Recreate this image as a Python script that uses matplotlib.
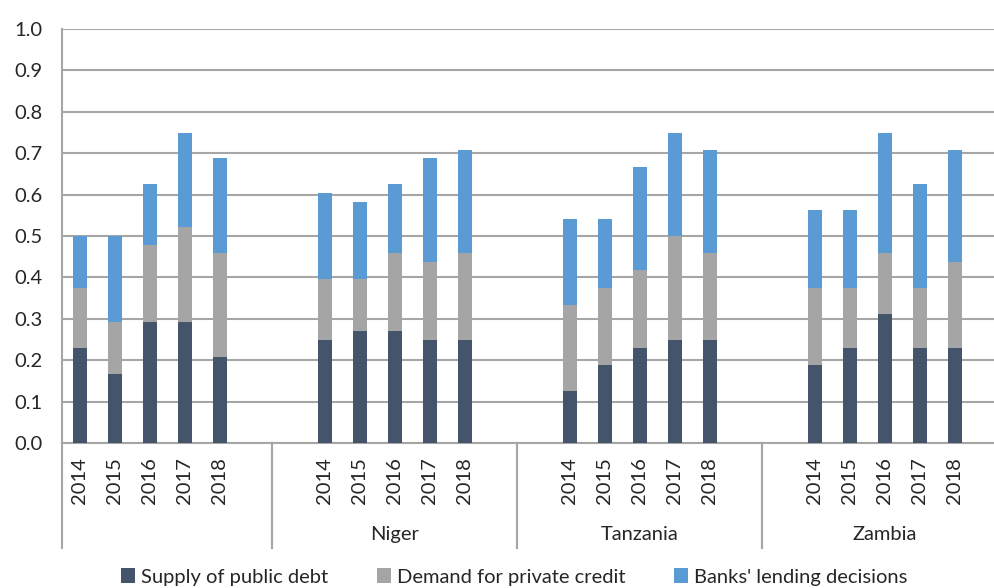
import matplotlib
matplotlib.use('Agg')
import matplotlib.pyplot as plt
import matplotlib.transforms as mtransforms
import numpy as np

plt.rcParams['font.family'] = ['Lato', 'DejaVu Sans']

# Datos
years = ['2014', '2015', '2016', '2017', '2018']
countries = ['', 'Niger', 'Tanzania', 'Zambia']
series_names = ['Supply of public debt', 'Demand for private credit', "Banks' lending decisions"]

public_debt = [0.229, 0.167, 0.292, 0.292, 0.208,
               0.25, 0.271, 0.271, 0.25, 0.25,
               0.125, 0.1875, 0.229, 0.25, 0.25,
               0.1875, 0.229, 0.3125, 0.229, 0.229]
private_credit = [0.146, 0.125, 0.187, 0.229, 0.25,
                  0.146, 0.125, 0.187, 0.188, 0.208,
                  0.208, 0.1875, 0.188, 0.25, 0.208,
                  0.1875, 0.146, 0.1455, 0.146, 0.2085]
lending = [0.125, 0.208, 0.146, 0.229, 0.2295,
           0.208, 0.187, 0.167, 0.25, 0.25,
           0.209, 0.167, 0.25, 0.25, 0.25,
           0.1875, 0.1875, 0.292, 0.25, 0.2705]

colors = ['#44546a', '#a5a5a5', '#5b9bd5']
grid_color = '#a6a6a6'
fs = 14.5

# Posiciones: el primer grupo no lleva hueco inicial, los demás sí
positions = []
group_bounds = []
slot = 0
for g in range(len(countries)):
    start = slot
    if g > 0:
        slot += 1
    for y in years:
        positions.append(slot)
        slot += 1
    slot += 1
    group_bounds.append((start - 0.5, slot - 0.5))
positions = np.array(positions)

fig = plt.figure(figsize=(9.95, 5.88), dpi=100)
ax = fig.add_axes([62 / 995, 1 - 443 / 588, 945 / 995, 414 / 588])

pd_arr = np.array(public_debt)
pc_arr = np.array(private_credit)
ld_arr = np.array(lending)
ax.bar(positions, pd_arr, width=0.4, color=colors[0], label=series_names[0], zorder=3)
ax.bar(positions, pc_arr, width=0.4, bottom=pd_arr, color=colors[1], label=series_names[1], zorder=3)
ax.bar(positions, ld_arr, width=0.4, bottom=pd_arr + pc_arr, color=colors[2], label=series_names[2], zorder=3)

ax.set_xlim(-0.5, slot - 0.5)
ax.set_ylim(0, 1.0)
ax.set_yticks(np.arange(0, 1.01, 0.1))
ax.set_yticklabels(['%.1f' % v for v in np.arange(0, 1.01, 0.1)])
ax.yaxis.grid(True, color=grid_color, linewidth=1.5, zorder=0)
ax.tick_params(axis='y', length=0, pad=14, labelsize=fs, labelcolor='#262626')

ax.set_xticks(positions)
ax.set_xticklabels(years * len(countries), rotation=90)
ax.tick_params(axis='x', length=0, pad=10, labelsize=fs, labelcolor='#262626')

for side in ['top', 'right']:
    ax.spines[side].set_visible(False)
ax.spines['left'].set_color(grid_color)
ax.spines['left'].set_linewidth(1.5)
ax.spines['bottom'].set_color(grid_color)
ax.spines['bottom'].set_linewidth(1.5)

# Separadores de grupo y nombres de país bajo el eje
trans = mtransforms.blended_transform_factory(ax.transData, ax.transAxes)
for (lo, hi), name in zip(group_bounds, countries):
    for xb in (lo, hi):
        ax.plot([xb, xb], [0, -0.254], transform=trans, color=grid_color,
                linewidth=1.5, clip_on=False)
    ax.text((lo + hi) / 2, -0.222, name, transform=trans, ha='center', va='center',
            fontsize=fs, color='#262626')

fig.legend(loc='center', bbox_to_anchor=(514 / 995, 1 - 577 / 588), ncol=3, frameon=False,
           fontsize=fs, handlelength=0.7, handleheight=0.7, handletextpad=0.3,
           columnspacing=2.4, labelcolor='#262626')

plt.savefig('out.png', dpi=100)
